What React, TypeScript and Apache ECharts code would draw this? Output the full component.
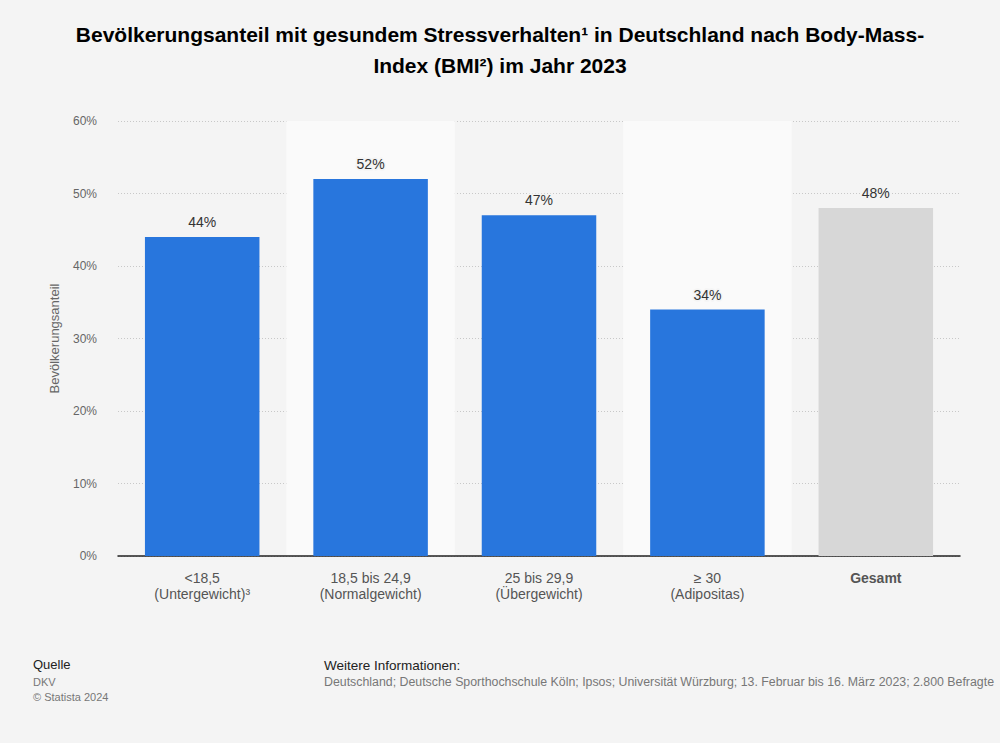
import React, { useEffect, useRef } from "react";
import * as echarts from "echarts";

const categories = [
  "<18,5\n(Untergewicht)³",
  "18,5 bis 24,9\n(Normalgewicht)",
  "25 bis 29,9\n(Übergewicht)",
  "≥ 30\n(Adipositas)",
  "Gesamt",
];
const values = [44, 52, 47, 34, 48];
const highlightIndex = 4;
const yTicks = { min: 0, max: 60, interval: 10 };

const FONT = "'Liberation Sans', Arial, Helvetica, sans-serif";
const BG = "#f4f4f4";

export default function App() {
  const ref = useRef<HTMLDivElement>(null);
  useEffect(() => {
    document.body.style.margin = "0";
    const chart = echarts.init(ref.current!, null, { renderer: "svg" });
    chart.setOption({
      animation: false,
      backgroundColor: BG,
      textStyle: { fontFamily: FONT },
      grid: { left: 118, right: 40, top: 121, bottom: 187 },
      xAxis: {
        type: "category",
        data: categories.map((c, i) =>
          i === highlightIndex
            ? { value: c, textStyle: { fontWeight: "bold", color: "#555" } }
            : c
        ),
        axisLine: { show: true, lineStyle: { color: "#222", width: 1.5 } },
        axisTick: { show: false },
        axisLabel: {
          color: "#555",
          fontSize: 14,
          lineHeight: 16,
          margin: 14,
          fontFamily: FONT,
          interval: 0,
        },
        splitArea: {
          show: true,
          areaStyle: { color: ["rgba(0,0,0,0)", "#fafafa"] },
        },
      },
      yAxis: {
        type: "value",
        min: yTicks.min,
        max: yTicks.max,
        interval: yTicks.interval,
        name: "Bevölkerungsanteil",
        nameLocation: "middle",
        nameGap: 57,
        nameTextStyle: { color: "#666", fontSize: 13, fontFamily: FONT },
        axisLine: { show: false },
        axisTick: { show: false },
        axisLabel: {
          formatter: "{value}%",
          color: "#666",
          fontSize: 12,
          margin: 21,
          fontFamily: FONT,
        },
        splitLine: {
          lineStyle: { color: "#c8c8c8", type: [1, 2], width: 1 },
        },
      },
      series: [
        {
          type: "bar",
          barCategoryGap: "32%",
          data: values.map((v, i) => ({
            value: v,
            itemStyle: { color: i === highlightIndex ? "#d7d7d7" : "#2876dd" },
          })),
          label: {
            show: true,
            position: "top",
            distance: 8,
            formatter: "{c}%",
            color: "#333",
            fontSize: 14,
            fontFamily: FONT,
            textBorderColor: BG,
            textBorderWidth: 3,
          },
        },
      ],
      graphic: [
        {
          type: "text",
          x: 500,
          y: 19,
          style: {
            text:
              "Bevölkerungsanteil mit gesundem Stressverhalten¹ in Deutschland nach Body-Mass-\nIndex (BMI²) im Jahr 2023",
            fill: "#000",
            font: `bold 21px ${FONT}`,
            lineHeight: 31,
            align: "center",
            verticalAlign: "top",
          },
        },
        {
          type: "text",
          left: 33,
          top: 658,
          style: { text: "Quelle", fill: "#222", font: `13px ${FONT}` },
        },
        {
          type: "text",
          left: 33,
          top: 676,
          style: { text: "DKV", fill: "#777", font: `11px ${FONT}` },
        },
        {
          type: "text",
          left: 33,
          top: 691,
          style: { text: "© Statista 2024", fill: "#777", font: `11px ${FONT}` },
        },
        {
          type: "text",
          left: 324,
          top: 658,
          style: {
            text: "Weitere Informationen:",
            fill: "#222",
            font: `13.5px ${FONT}`,
          },
        },
        {
          type: "text",
          x: 324,
          y: 676,
          scaleX: 1.03,
          style: {
            text:
              "Deutschland; Deutsche Sporthochschule Köln; Ipsos; Universität Würzburg; 13. Februar bis 16. März 2023; 2.800 Befragte",
            fill: "#777",
            font: `12px ${FONT}`,
            verticalAlign: "top",
          },
        },
      ],
    });
    return () => chart.dispose();
  }, []);
  return (
    <div
      ref={ref}
      style={{ position: "absolute", left: 0, top: 0, width: 1000, height: 743 }}
    />
  );
}
